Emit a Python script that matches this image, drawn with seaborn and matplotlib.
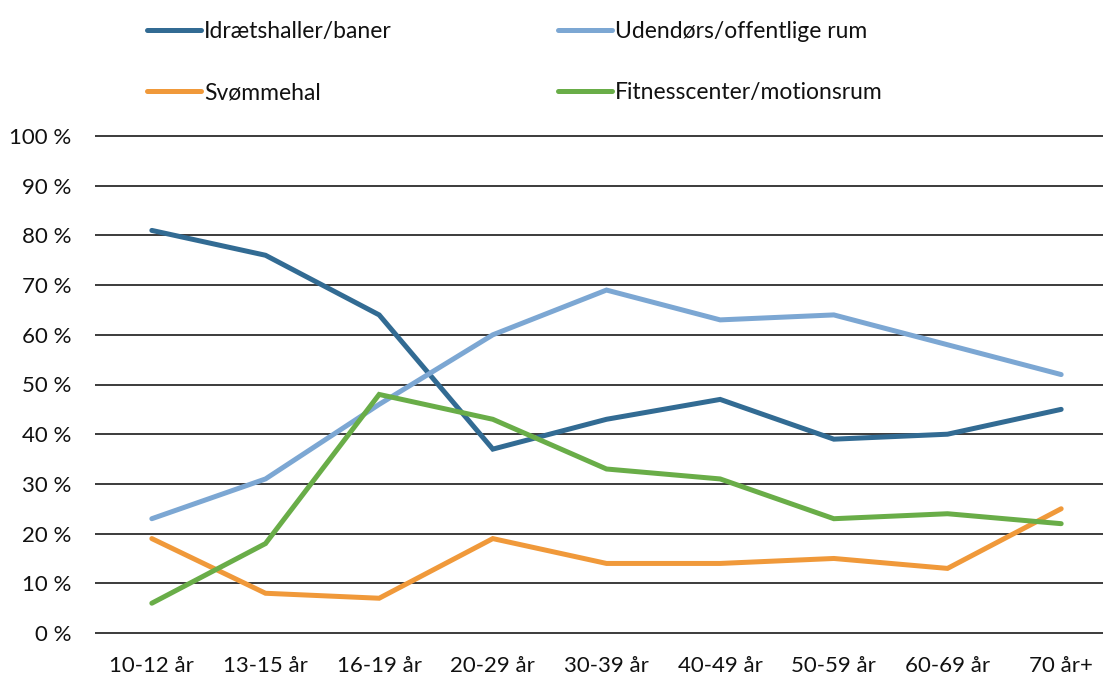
import matplotlib
matplotlib.use("Agg")
import matplotlib.pyplot as plt
import seaborn as sns
import pandas as pd
from matplotlib.ticker import FuncFormatter
from matplotlib.lines import Line2D

categories = ["10-12 år", "13-15 år", "16-19 år", "20-29 år", "30-39 år",
              "40-49 år", "50-59 år", "60-69 år", "70 år+"]
idraet = [81, 76, 64, 37, 43, 47, 39, 40, 45]
udendors = [23, 31, 46, 60, 69, 63, 64, 58, 52]
svomme = [19, 8, 7, 19, 14, 14, 15, 13, 25]
fitness = [6, 18, 48, 43, 33, 31, 23, 24, 22]

series_names = ["Idrætshaller/baner", "Udendørs/offentlige rum",
                "Svømmehal", "Fitnesscenter/motionsrum"]
series_values = [idraet, udendors, svomme, fitness]
colors = ["#326B93", "#7CA7D3", "#F0993A", "#69AD48"]

rows = []
for name, vals in zip(series_names, series_values):
    for c, v in zip(categories, vals):
        rows.append({"Alder": c, "Andel": v, "Serie": name})
df = pd.DataFrame(rows)

sns.set_theme(style="white")
plt.rcParams["font.family"] = ["Lato", "DejaVu Sans"]

fig = plt.figure(figsize=(11.03, 6.77), dpi=100)
ax = fig.add_axes([95 / 1103, 39 / 677, 1023 / 1103, 507 / 677])

LW = 3.6
sns.lineplot(data=df, x="Alder", y="Andel", hue="Serie", hue_order=series_names,
             palette=dict(zip(series_names, colors)), linewidth=LW, ax=ax,
             sort=False, legend=False)
for ln in ax.lines:
    ln.set_solid_capstyle("round")
    ln.set_solid_joinstyle("miter")

ax.set_xlim(-0.5, len(categories) - 0.5)
ax.set_ylim(-1, 101)
ax.set_yticks(range(0, 101, 10))
ax.yaxis.set_major_formatter(FuncFormatter(lambda v, p: f"{int(v)} %"))
ax.set_xlabel("")
ax.set_ylabel("")
for s in ax.spines.values():
    s.set_visible(False)
ax.grid(axis="y", color="#1a1a1a", linewidth=1.2)
ax.grid(axis="x", visible=False)
ax.set_axisbelow(True)
ax.tick_params(axis="y", length=0, pad=17, labelsize=16, colors="#111111")
ax.tick_params(axis="x", length=0, pad=13, labelsize=16, colors="#111111")

order = [0, 2, 1, 3]
handles = [Line2D([], [], color=colors[i], linewidth=LW, solid_capstyle="round") for i in order]
labels = [series_names[i] for i in order]
leg = fig.legend(handles, labels, ncol=2, loc="upper left",
                 bbox_to_anchor=(147 / 1103, 1 - 21 / 677), frameon=False,
                 fontsize=16.5, handlelength=2.35, handletextpad=0.13,
                 columnspacing=7.28, labelspacing=1.75, borderpad=0, borderaxespad=0)
for t in leg.get_texts():
    t.set_color("#111111")

fig.savefig("out.png", dpi=100)
